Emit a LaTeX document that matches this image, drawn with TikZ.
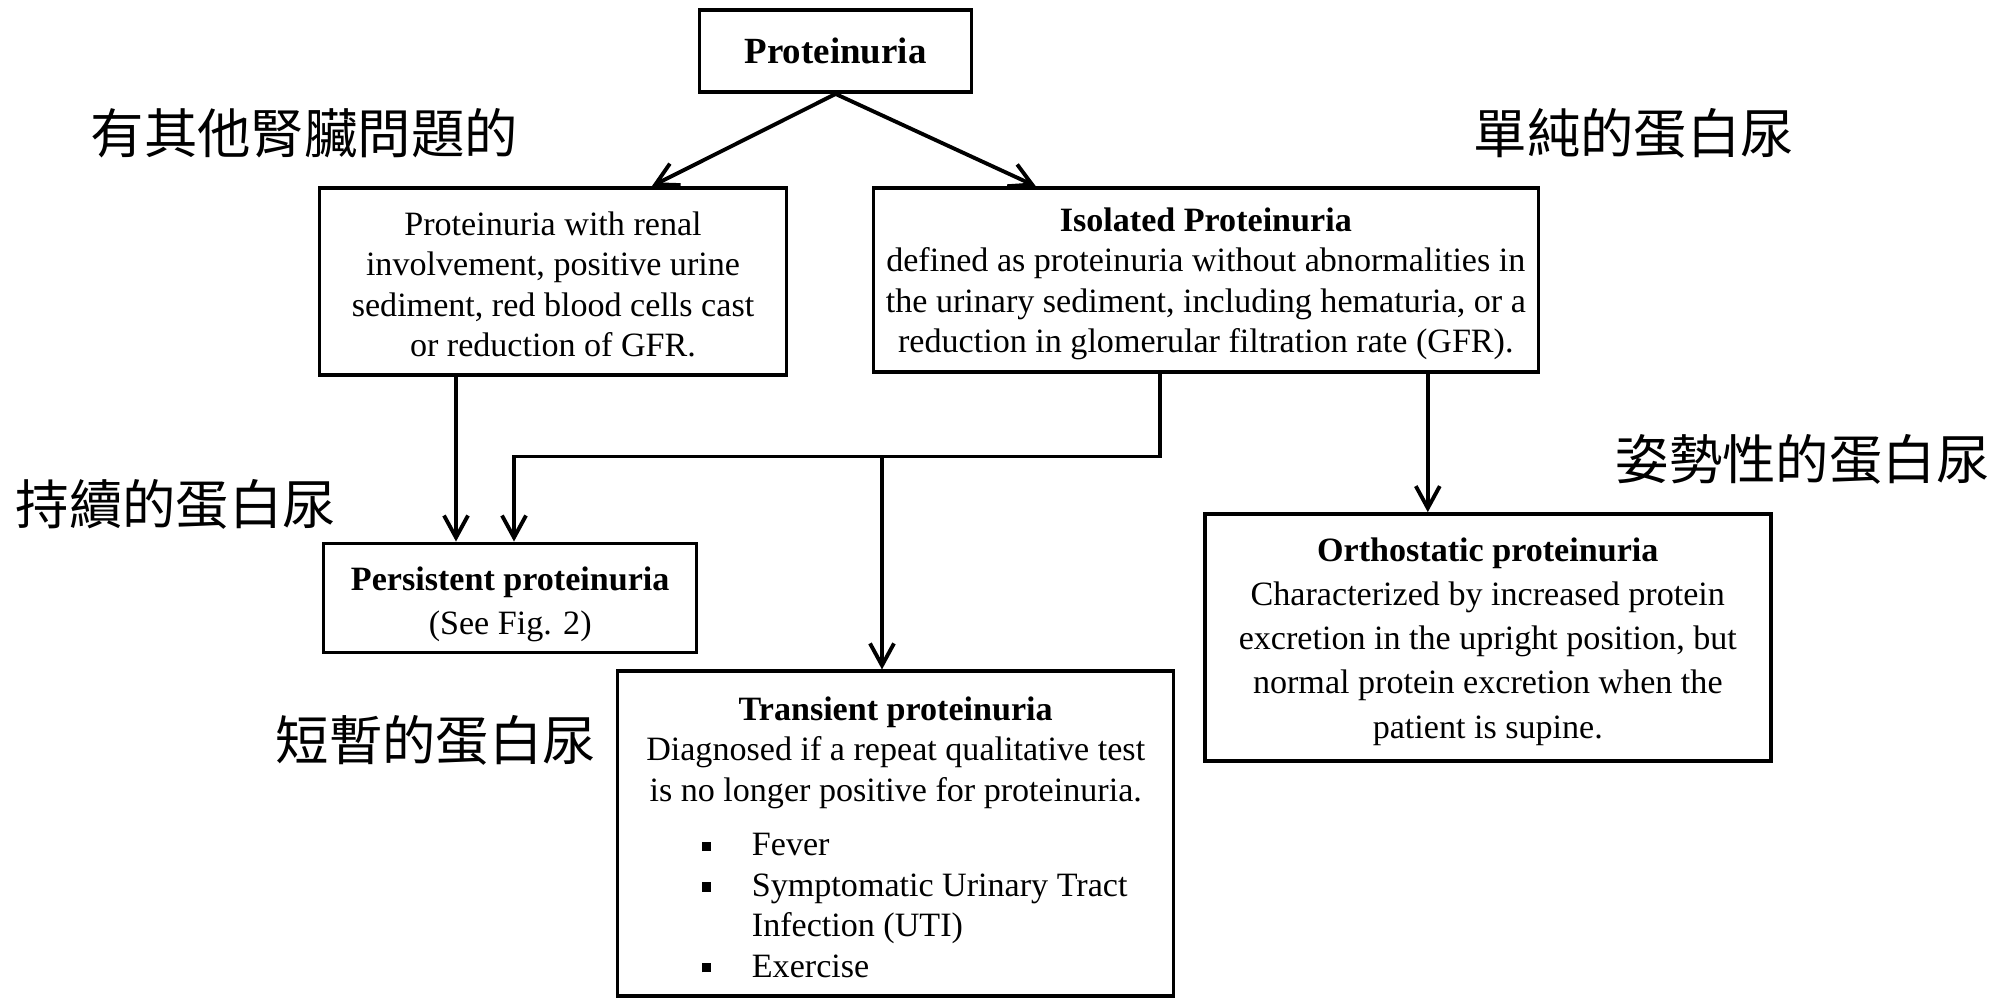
\documentclass[tikz,border=0pt]{standalone}
\usepackage{fontspec}
\setmainfont{Liberation Serif}
\newfontfamily\cjk{Noto Sans CJK TC}
\usetikzlibrary{arrows.meta, positioning}

\newcommand{\bul}{\raisebox{0.3ex}{\rule{0.6ex}{0.6ex}}}

\begin{document}
\begin{tikzpicture}[
        box/.style={draw, line width=1pt, align=center, inner sep=0pt, font=\fontsize{9.7}{11.5}\selectfont},
        zh/.style={anchor=west, inner sep=0pt, font=\cjk\fontsize{15.2}{18}\selectfont},
        arrow/.style={-{Straight Barb[length=2.2mm, width=2.4mm]}, line width=1.1pt}
    ]
        \useasboundingbox (0, 0) rectangle (20.05, -9.99);

        % Top
        \node[box, minimum width=2.72cm, minimum height=0.82cm, font=\fontsize{10.5}{12}\selectfont\bfseries] (prot) at (8.356, -0.512) {Proteinuria};

        % Second row
        \node[box, minimum width=4.67cm, minimum height=1.87cm] (renal) at (5.530, -2.813) {
            \rule{0pt}{8.5pt}Proteinuria with renal\\
            involvement, positive urine\\
            sediment, red blood cells cast\\
            or reduction of GFR.
        };
        \node[box, minimum width=6.65cm, minimum height=1.84cm] (isol) at (12.058, -2.800) {
            \rule{0pt}{9pt}\textbf{Isolated Proteinuria}\\
            defined as proteinuria without abnormalities in\\
            the urinary sediment, including hematuria, or a\\
            reduction in glomerular filtration rate (GFR).
        };

        % Third row
        \node[box, minimum width=3.73cm, minimum height=1.09cm, font=\fontsize{9.7}{12.5}\selectfont] (pers) at (5.102, -5.978) {
            \rule{0pt}{10.2pt}\textbf{Persistent proteinuria}\\
            (See Fig. 2)
        };
        \node[box, minimum width=5.66cm, minimum height=2.47cm, font=\fontsize{9.7}{12.6}\selectfont] (orth) at (14.878, -6.374) {
            \rule{0pt}{9pt}\textbf{Orthostatic proteinuria}\\
            Characterized by increased protein\\
            excretion in the upright position, but\\
            normal protein excretion when the\\
            patient is supine.
        };
        \node[box, minimum width=5.56cm, minimum height=3.25cm] (trans) at (8.957, -8.337) {
            \rule{0pt}{12pt}\textbf{Transient proteinuria}\\
            Diagnosed if a repeat qualitative test\\
            is no longer positive for proteinuria.\\[1.0ex]
            \hspace*{3.8mm}\begin{tabular}{@{}p{5mm}@{}l@{}}
                \bul & Fever\\
                \bul & Symptomatic Urinary Tract\\
                     & Infection (UTI)\\
                \bul & Exercise
            \end{tabular}
        };

        % Chinese labels
        \node[zh] (lbrenal) at (0.90, -1.33) {有其他腎臟問題的};
        \node[zh] (lbisol) at (14.73, -1.33) {單純的蛋白尿};
        \node[zh] (lbpers) at (0.15, -5.04) {持續的蛋白尿};
        \node[zh] (lbtrans) at (2.75, -7.40) {短暫的蛋白尿};
        \node[zh] (lborth) at (16.15, -4.59) {姿勢性的蛋白尿};

        % Junctions
        \coordinate (junc) at (5.14, -4.565);
        \coordinate (tbranch) at (8.82, -4.565);

        % Arrows
        \draw[arrow] (prot.south) -- ([xshift=9.9mm]renal.north);
        \draw[arrow] (prot.south) -- ([xshift=-17mm]isol.north);
        \draw[arrow] ([xshift=-9.7mm]renal.south) -- ([xshift=-9.7mm]renal.south |- pers.north);
        \draw[arrow] ([xshift=-4.6mm]isol.south) |- (junc) -- (junc |- pers.north);
        \draw[arrow] (tbranch) -- (tbranch |- trans.north);
        \draw[arrow] ([xshift=22.2mm]isol.south) -- ([xshift=22.2mm]isol.south |- orth.north);
\end{tikzpicture}
\end{document}
